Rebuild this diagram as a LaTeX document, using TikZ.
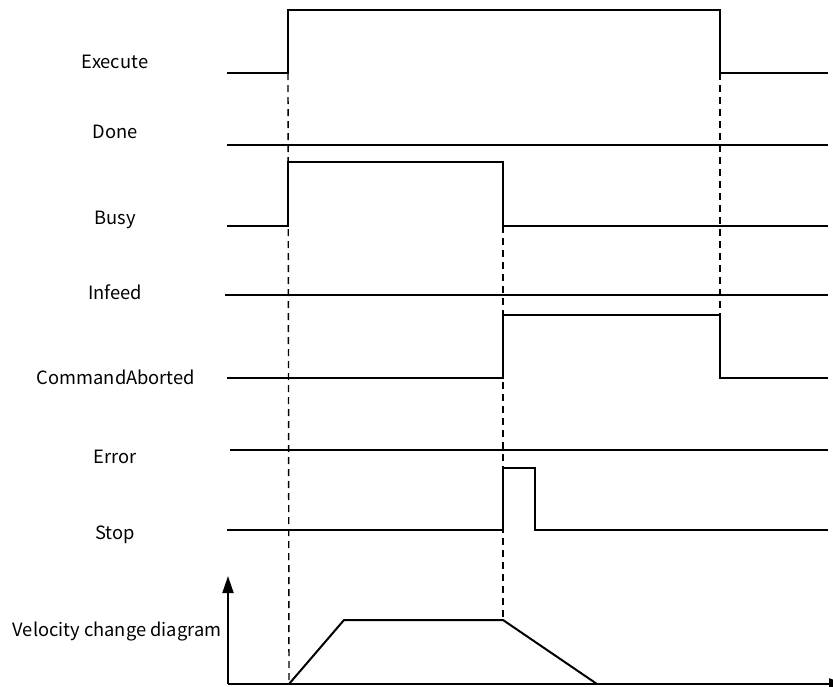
\documentclass[tikz,border=0pt]{standalone}
\usepackage{fontspec}
\setmainfont{Noto Sans CJK SC}
\usetikzlibrary{arrows.meta}

\begin{document}
\begin{tikzpicture}[x=1pt, y=-1pt,
  sig/.style={line width=2pt, line join=miter},
  guide/.style={line width=1.4pt, dash pattern=on 7pt off 5pt},
  lbl/.style={anchor=base, inner sep=0pt, font=\fontsize{18.3}{22}\selectfont}]
\useasboundingbox (0,0) rectangle (833,686);

% signal names
\node[lbl] (lexe) at (115,68) {Execute};
\node[lbl] (ldone) at (115,138) {Done};
\node[lbl] (lbusy) at (115,224) {Busy};
\node[lbl] (linf) at (115,299) {Infeed};
\node[lbl] (lcab) at (116,384) {CommandAborted};
\node[lbl] (lerr) at (115,463) {Error};
\node[lbl] (lstop) at (115,539) {Stop};
\node[lbl] (lvel) at (117,636) {Velocity change diagram};

% edges
\coordinate (t1) at (288,73);
\coordinate (t2) at (503,226);
\coordinate (t3) at (720,73);

% traces
\draw[sig] (227,73) -- (t1) -- (288,10) -- (720,10) -- (t3) -- (828,73);
\draw[sig] (227,145) -- (828,145);
\draw[sig] (227,226) -- (288,226) -- (288,162) -- (503,162) -- (t2) -- (828,226);
\draw[sig] (225,295) -- (828,295);
\draw[sig] (227,378) -- (503,378) -- (503,315) -- (720,315) -- (720,378) -- (828,378);
\draw[sig] (230,450) -- (828,450);
\draw[sig] (227,530) -- (503,530) -- (503,468) -- (535,468) -- (535,530) -- (828,530);

% velocity axes and profile
\coordinate (orig) at (228,684);
\draw[sig, -{Triangle[length=17pt, width=11pt]}] (orig) -- (228,576);
\draw[sig, -{Triangle[length=17pt, width=11pt]}] (orig) -- (846,684);
\coordinate (v0) at (289,684);
\coordinate (v3) at (503,620);
\draw[sig] (v0) -- (344,620) -- (v3) -- (597,684);

% guides
\draw[guide] (t1) -- (v0);
\draw[guide] (t2) -- (v3);
\draw[guide] (t3) -- (720,378);
\end{tikzpicture}
\end{document}
